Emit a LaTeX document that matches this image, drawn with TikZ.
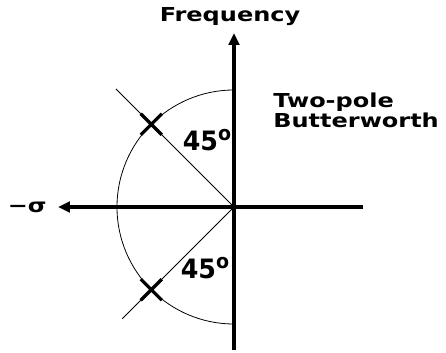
\documentclass[tikz,border=0pt]{standalone}
\usepackage{fontspec}
\newfontfamily\plotfont{DejaVu Sans}
\usetikzlibrary{arrows.meta, shapes.misc, positioning}

\newcommand{\dego}{\raisebox{8pt}{\fontsize{15}{15}\selectfont o}}

\tikzset{
  axisline/.style={line width=2.4pt, -{Triangle[length=9pt, width=8pt]}},
  guide/.style={line width=0.6pt},
  polemark/.style={cross out, draw, line width=2.4pt, minimum size=13.5pt, inner sep=0pt},
  plotlabel/.style={font=\plotfont\bfseries\fontsize{14.4}{15}\selectfont, xscale=1.25, inner sep=0pt},
  anglelabel/.style={font=\plotfont\bfseries\fontsize{20}{22}\selectfont, xscale=0.95, inner sep=0pt}
}

\begin{document}
\begin{tikzpicture}[x=0.75pt, y=0.75pt]
  % rahmen
  \useasboundingbox (-234,-146) rectangle (212,207);
  \coordinate (O) at (0,0);

  % achsen
  \draw[axisline] (0,-143) -- (0,174) coordinate (jw);
  \draw[axisline] (129,0) -- (-176,0) coordinate (sig);
  \node[plotlabel] (freq) at (-4,190) {Frequency};
  \node[plotlabel, anchor=east] (msig) at (-187,0) {−σ};

  % einheitskreis (linke haelfte)
  \draw[guide] (0,117) arc[start angle=90, end angle=270, radius=117];

  % pole bei 135 und 225 grad
  \node[polemark] (p1) at (135:117) {};
  \node[polemark] (p2) at (225:117) {};
  \coordinate (g1) at (135:167);
  \coordinate (g2) at (225:158);
  \draw[guide] (O) -- (p1) -- (g1);
  \draw[guide] (O) -- (p2) -- (g2);

  % winkel
  \node[anglelabel] (a1) at (-27,67) {45\dego};
  \node[anglelabel] (a2) at (-29,-61) {45\dego};

  % beschriftung
  \node[plotlabel, anchor=west, align=left, font=\plotfont\bfseries\fontsize{14.4}{15}\selectfont] (bw) at (39,97) {Two-pole\\Butterworth};
\end{tikzpicture}
\end{document}
